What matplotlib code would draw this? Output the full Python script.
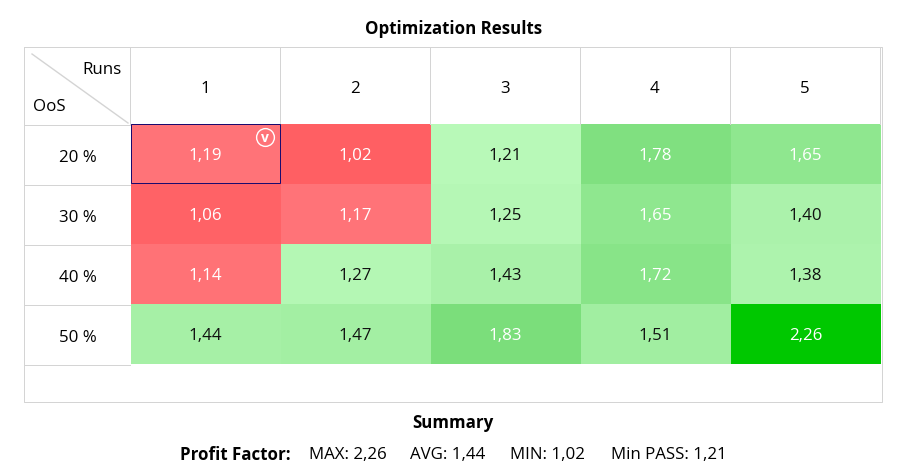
#!/usr/bin/env python
""" Optimization results table: profit factor per OoS share and run """

import numpy as np
import matplotlib
matplotlib.use('Agg')
matplotlib.rcParams.update({'font.family': 'Open Sans', 'font.size': 12.2})
import matplotlib.pyplot as plt
from matplotlib.colors import to_rgb

runs = ['1', '2', '3', '4', '5']
oos = ['20 %', '30 %', '40 %', '50 %']
values = [[1.19, 1.02, 1.21, 1.78, 1.65],
          [1.06, 1.17, 1.25, 1.65, 1.40],
          [1.14, 1.27, 1.43, 1.72, 1.38],
          [1.44, 1.47, 1.83, 1.51, 2.26]]
cell_colors = [['#ff7378', '#ff5f63', '#b8f9b8', '#80e080', '#8fe78f'],
               ['#ff6266', '#ff7378', '#b5f7b5', '#8fe78f', '#abf2ab'],
               ['#ff7276', '#b4f7b4', '#a9f1a9', '#88e488', '#adf3ad'],
               ['#a6f0a6', '#a3efa3', '#7bde7b', '#a1eea1', '#00c800']]
white_text = [[1, 1, 0, 1, 1],
              [1, 1, 0, 1, 0],
              [1, 0, 0, 1, 0],
              [0, 0, 1, 0, 1]]
summary = ['MAX: 2,26', 'AVG: 1,44', 'MIN: 1,02', 'Min PASS: 1,21']
summary_x = [309, 410, 510, 611]

grid = '#d4d4d4'
txt = '#111111'
lw = 0.72

fig = plt.figure(figsize=(9.06, 4.77), dpi=100)
ax = fig.add_axes([0, 0, 1, 1])
ax.set(xlim=(0, 906), ylim=(477, 0))
ax.axis('off')

xedges = np.array([131, 281, 431, 581, 731, 881])
yedges = np.array([125, 185, 245, 305, 365])
rgb = np.array([[to_rgb(c) for c in row] for row in cell_colors])
ax.pcolormesh(xedges, yedges, rgb, zorder=1)

# outer frame and header lines
ax.plot([24, 882, 882, 24, 24], [47.5, 47.5, 402.5, 402.5, 47.5],
        c=grid, lw=lw, zorder=2)
ax.plot([24, 130], [125.5, 125.5], c=grid, lw=lw, zorder=2)
for y in yedges[1:]:
    ax.plot([24, 130], [y + 0.5, y + 0.5], c=grid, lw=lw, zorder=2)
for x in xedges:
    ax.plot([x - 1, x - 1], [48, 125], c=grid, lw=lw, zorder=2)
ax.plot([32, 128], [55, 124], c=grid, lw=1.0, zorder=2)

ax.text(454, 29, 'Optimization Results', ha='center', va='center', fontweight='bold')
ax.text(122, 70, 'Runs', ha='right', va='center')
ax.text(33, 107, 'OoS', ha='left', va='center')

for j, r in enumerate(runs):
    ax.text((xedges[j] + xedges[j + 1]) / 2 - 1, 89, r, ha='center', va='center')
for i, o in enumerate(oos):
    ax.text(77.5, (yedges[i] + yedges[i + 1]) / 2 + 3, o, ha='center', va='center')
    for j in range(5):
        label = f'{values[i][j]:.2f}'.replace('.', ',')
        ax.text((xedges[j] + xedges[j + 1]) / 2 - 0.5, (yedges[i] + yedges[i + 1]) / 2 + 1.5,
                label, ha='center', va='center', zorder=3,
                color='white' if white_text[i][j] else txt)

# selected cell marker
ax.add_patch(plt.Rectangle((131, 124.5), 149, 59, fill=False, ec='#1c0a6e', lw=lw, zorder=4))
ax.plot(265, 138, 'o', ms=12.8, mfc='none', mec='white', mew=1.0, zorder=4)
ax.text(265, 138.5, 'v', color='white', ha='center', va='center', fontsize=10,
        fontweight='bold', zorder=4)

ax.text(453, 423, 'Summary', ha='center', va='center', fontweight='bold')
ax.text(180, 455, 'Profit Factor:', ha='left', va='center', fontweight='bold')
for x, s in zip(summary_x, summary):
    ax.text(x, 455, s, ha='left', va='center')

plt.savefig('out.png', dpi=100)
